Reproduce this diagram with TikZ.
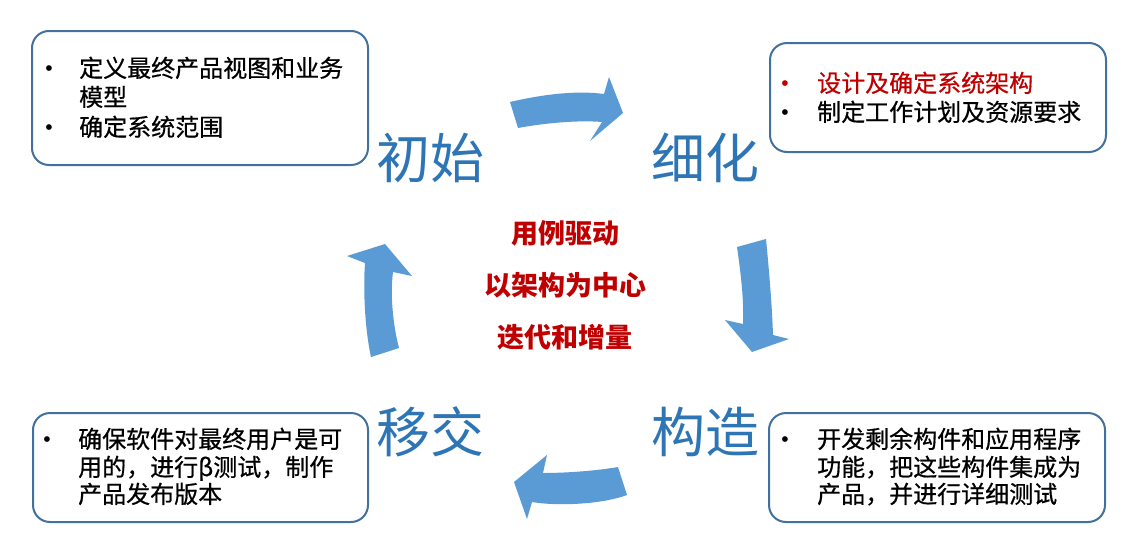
\documentclass[tikz,border=0pt]{standalone}
\usepackage{fontspec}
\setmainfont{Noto Sans CJK SC}
\newfontfamily\boxfont[FakeBold=0.6]{Noto Sans CJK SC}
\newfontfamily\bulletfont{Liberation Sans}
\definecolor{arrowblue}{HTML}{5B9BD5}
\definecolor{boxblue}{HTML}{41719C}
\definecolor{labelblue}{HTML}{2E75B6}
\definecolor{darkred}{HTML}{C00000}
\tikzset{
  box/.style={draw=boxblue, line width=2pt, rounded corners=17pt, fill=white, inner sep=0pt},
  line/.style={anchor=base west, inner sep=0pt, font=\boxfont\fontsize{24pt}{29pt}\selectfont},
  bul/.style={anchor=base, inner sep=0pt, font=\bulletfont\fontsize{21pt}{21pt}\selectfont},
  phase/.style={text=labelblue, inner sep=0pt, font=\fontsize{54pt}{60pt}\selectfont},
  core/.style={text=darkred, inner sep=0pt, font=\fontsize{27pt}{30pt}\selectfont\bfseries},
  arrowshape/.style={fill=arrowblue}
}
\begin{document}
\begin{tikzpicture}[x=1pt,y=-1pt]
\useasboundingbox (0,0) rectangle (1139,549);
\fill[white] (0,0) rectangle (1139,549);

% boxes
\node[box, minimum width=336pt, minimum height=134pt] (b1) at (200,98) {};
\node[box, minimum width=336pt, minimum height=109pt] (b2) at (938,97.5) {};
\node[box, minimum width=336pt, minimum height=109pt] (b3) at (937,467.5) {};
\node[box, minimum width=335pt, minimum height=109pt] (b4) at (200.5,467.5) {};

% box 1 text
\node[bul] (b1u1) at (49,75) {•};
\node[line] (b1l1) at (79,77) {定义最终产品视图和业务};
\node[line] (b1l2) at (79,106) {模型};
\node[bul] (b1u2) at (49,134) {•};
\node[line] (b1l3) at (79,136) {确定系统范围};

% box 2 text
\node[bul, text=darkred] (b2u1) at (785,90) {•};
\node[line, text=darkred] (b2l1) at (817,92) {设计及确定系统架构};
\node[bul] (b2u2) at (785,119) {•};
\node[line] (b2l2) at (817,121) {制定工作计划及资源要求};

% box 3 text
\node[bul] (b3u1) at (785,446) {•};
\node[line] (b3l1) at (817,448) {开发剩余构件和应用程序};
\node[line] (b3l2) at (817,476) {功能，把这些构件集成为};
\node[line] (b3l3) at (817,503) {产品，并进行详细测试};

% box 4 text
\node[bul] (b4u1) at (47,446) {•};
\node[line] (b4l1) at (78,448) {确保软件对最终用户是可};
\node[line] (b4l2) at (78,476) {用的，进行β测试，制作};
\node[line] (b4l3) at (78,503) {产品发布版本};

% phase labels
\node[phase] (p1) at (430,158) {初始};
\node[phase] (p2) at (705.5,158) {细化};
\node[phase] (p3) at (705.5,432) {构造};
\node[phase] (p4) at (430,432) {移交};

% centre text
\node[core] (c1) at (565,233) {用例驱动};
\node[core] (c2) at (565,285) {以架构为中心};
\node[core] (c3) at (565,337) {迭代和增量};

% curved arrows
\fill[arrowshape] (510,102) .. controls (540,95) and (575,90) .. (604,94)
  -- (609,77) -- (623,113) -- (590,141) -- (602,122)
  .. controls (578,120) and (545,123) .. (518,128) -- cycle;
\fill[arrowshape] (737,247) -- (766,239) .. controls (769,270) and (772,305) .. (773,335)
  -- (789,339) -- (752,352) -- (725,320) -- (743,324)
  .. controls (744,300) and (741,275) .. (737,247) -- cycle;
\fill[arrowshape] (618,467) .. controls (595,471) and (565,473) .. (543,473)
  -- (547,455) -- (514,482) -- (527,519) -- (532,502)
  .. controls (555,506) and (600,505) .. (627,495) -- cycle;
\fill[arrowshape] (371,357) .. controls (365,330) and (363,290) .. (365,263)
  -- (347,256) -- (385,244) -- (412,276) -- (393,272)
  .. controls (390,295) and (393,325) .. (399,348) -- cycle;
\end{tikzpicture}
\end{document}
